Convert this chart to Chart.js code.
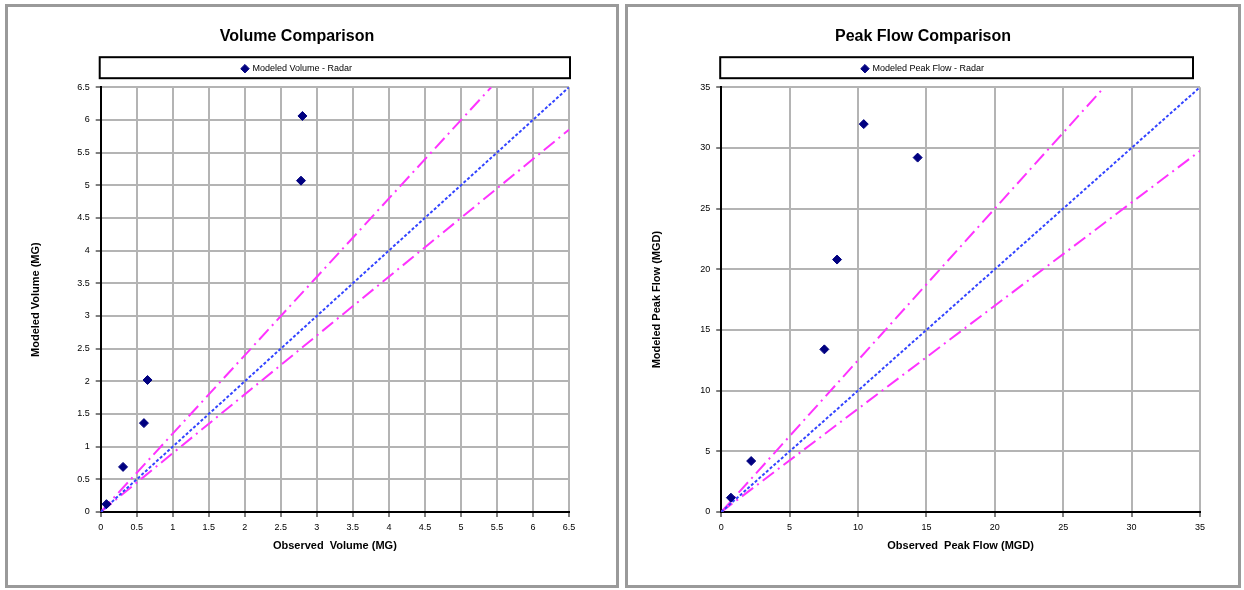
<!DOCTYPE html>
<html>
<head>
<meta charset="utf-8">
<script src="https://cdn.jsdelivr.net/npm/chart.js@4/dist/chart.umd.min.js"></script>
<style>
  body { margin: 0; background: #fff; width: 1244px; height: 590px; overflow: hidden; }
  .panel { position: absolute; top: 4px; height: 584px; border: 3px solid #9a9a9a; box-sizing: border-box; background: #fff; }
  #p1 { left: 5px; width: 614px; }
  #p2 { left: 625px; width: 616px; }
  canvas { display: block; }
</style>
</head>
<body>
<div class="panel" id="p1"><canvas id="volChart"></canvas></div>
<div class="panel" id="p2"><canvas id="peakChart"></canvas></div>
<script>
// volume data (MG)
const volObserved = [0.08, 0.31, 0.60, 0.65, 2.78, 2.80];
const volModeled  = [0.12, 0.69, 1.36, 2.02, 5.07, 6.06];
const volLine     = [[0, 0], [6.5, 6.5]];
const volUpper    = [[0, 0], [5.42, 6.5]];
const volLower    = [[0, 0], [6.5, 5.85]];

// peak flow data (MGD)
const peakObserved = [0.71, 2.19, 7.54, 8.47, 10.42, 14.36];
const peakModeled  = [1.18, 4.2, 13.4, 20.8, 31.96, 29.2];
const peakLine     = [[0, 0], [35, 35]];
const peakUpper    = [[0, 0], [28, 35]];
const peakLower    = [[0, 0], [35, 29.75]];

const FONT = "'Liberation Sans', Arial, sans-serif";

function pts(xs, ys) {
    return xs.map((x, i) => ({ x: x, y: ys[i] }));
}
function linePts(arr) {
    return arr.map(p => ({ x: p[0], y: p[1] }));
}

// box round the legend like in excel, plus a bit of room under it
const legendBox = {
    id: "legendBox",
    beforeLayout(chart, args, opts) {
        const lg = chart.legend;
        if (lg && !lg._padded) {
            const fit = lg.fit.bind(lg);
            lg.fit = function () { fit(); lg.height += opts.extra || 0; };
            lg._padded = true;
        }
    },
    afterDraw(chart, args, opts) {
        const lg = chart.legend;
        const ctx = chart.ctx;
        const ca = chart.chartArea;
        const top = lg.top + 5;
        ctx.save();
        ctx.strokeStyle = "#000";
        ctx.lineWidth = 2;
        ctx.strokeRect(ca.left - 1, top, ca.right - ca.left + 2 - (opts.cutRight || 0), ca.top - 9 - top);
        ctx.restore();
    }
};

function makeChart(id, title, legendText, xTitle, yTitle, data, ref, upper, lower, max, step, pad) {
    const magenta = "#ff33ff";
    return new Chart(document.getElementById(id), {
        type: "scatter",
        data: {
            datasets: [
                {
                    label: legendText,
                    data: data,
                    pointStyle: "rectRot",
                    pointRadius: 4.5,
                    backgroundColor: "#000080",
                    borderColor: "#000080",
                    order: 0
                },
                {
                    label: "line",
                    type: "line",
                    data: linePts(ref),
                    borderColor: "#3344ff",
                    borderWidth: 2,
                    borderDash: [3, 2],
                    pointRadius: 0,
                    order: 1
                },
                {
                    label: "upper",
                    type: "line",
                    data: linePts(upper),
                    borderColor: magenta,
                    borderWidth: 2,
                    borderDash: [14, 5, 2, 5],
                    pointRadius: 0,
                    order: 2
                },
                {
                    label: "lower",
                    type: "line",
                    data: linePts(lower),
                    borderColor: magenta,
                    borderWidth: 2,
                    borderDash: [14, 5, 2, 5],
                    pointRadius: 0,
                    order: 2
                }
            ]
        },
        options: {
            responsive: true,
            maintainAspectRatio: false,
            animation: false,
            layout: { padding: { left: pad.left, right: pad.right, top: 0, bottom: 28 } },
            plugins: {
                title: {
                    display: true,
                    text: title,
                    color: "#000",
                    font: { family: FONT, size: 16, weight: "bold" },
                    padding: { top: 20, bottom: 6 }
                },
                legend: {
                    display: true,
                    labels: {
                        filter: item => item.datasetIndex === 0,
                        usePointStyle: true,
                        pointStyle: "rectRot",
                        boxWidth: 6,
                        boxHeight: 6,
                        color: "#000",
                        font: { family: FONT, size: 9 },
                        padding: 12
                    }
                },
                legendBox: { cutRight: pad.cutRight, extra: 4 },
                tooltip: { enabled: false }
            },
            scales: {
                x: {
                    type: "linear",
                    min: 0,
                    max: max,
                    ticks: {
                        stepSize: step, color: "#000", font: { family: FONT, size: 9 }, padding: 5, maxRotation: 0,
                        callback: v => String(Math.round(v * 10) / 10)
                    },
                    grid: { color: "#b4b4b4", lineWidth: 2, tickLength: 5, tickColor: "#000", tickWidth: 1 },
                    border: { color: "#000", width: 2 },
                    title: { display: true, text: xTitle, color: "#000", font: { family: FONT, size: 11, weight: "bold" }, padding: { top: 2 } }
                },
                y: {
                    type: "linear",
                    min: 0,
                    max: max,
                    ticks: {
                        stepSize: step, color: "#000", font: { family: FONT, size: 9 }, padding: 6,
                        callback: v => String(Math.round(v * 10) / 10)
                    },
                    grid: { color: "#b4b4b4", lineWidth: 2, tickLength: 5, tickColor: "#000", tickWidth: 1 },
                    border: { color: "#000", width: 2 },
                    title: { display: true, text: yTitle, color: "#000", font: { family: FONT, size: 11, weight: "bold" }, padding: { bottom: pad.title } }
                }
            }
        },
        plugins: [legendBox]
    });
}

makeChart("volChart", "Volume Comparison", "Modeled Volume - Radar",
    "Observed  Volume (MG)", "Modeled Volume (MG)",
    pts(volObserved, volModeled), volLine, volUpper, volLower, 6.5, 0.5,
    { left: 17, right: 47, title: 29, cutRight: 0 });

makeChart("peakChart", "Peak Flow Comparison", "Modeled Peak Flow - Radar",
    "Observed  Peak Flow (MGD)", "Modeled Peak Flow (MGD)",
    pts(peakObserved, peakModeled), peakLine, peakUpper, peakLower, 35, 5,
    { left: 18, right: 38, title: 31, cutRight: 8 });
</script>
</body>
</html>
